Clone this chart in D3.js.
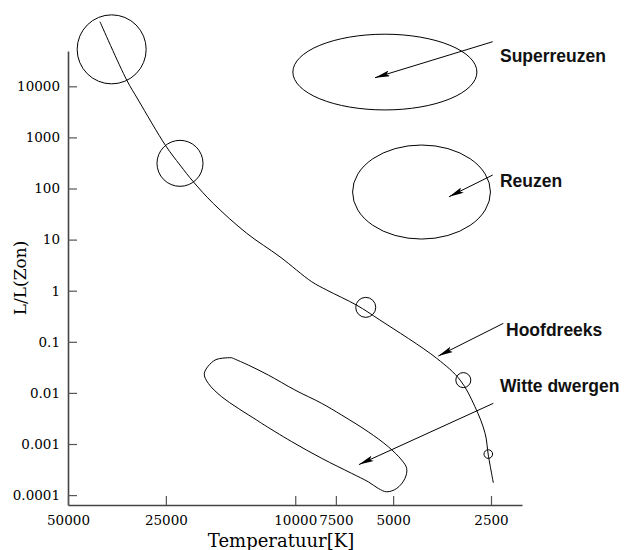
<!DOCTYPE html>
<html>
<head>
<meta charset="utf-8">
<script src="https://cdn.jsdelivr.net/npm/d3@7"></script>
<style>
  body { margin: 0; background: #fff; }
</style>
</head>
<body>
<div id="hrd"></div>
<script>
// axis ticks
const tempTicks = [50000, 25000, 10000, 7500, 5000, 2500];
const tempTickLabels = ["50000", "25000", "10000", "7500", "5000", "2500"];
const lumTicks = [0.0001, 0.001, 0.01, 0.1, 1, 10, 100, 1000, 10000];
const lumTickLabels = ["0.0001", "0.001", "0.01", "0.1", "1", "10", "100", "1000", "10000"];

// main sequence (hoofdreeks)
const msTemp = [39870, 33000, 30390, 25030, 22620, 20590, 17870, 14100, 11140, 8900, 8000, 6470, 5490, 3670, 3110, 2800, 2606, 2548, 2459];
const msLum = [184000, 13300, 5390, 688, 288, 136, 51, 13.3, 4.6, 1.5, 1.03, 0.52, 0.267, 0.0474, 0.0178, 0.00536, 0.00161, 0.000607, 0.000174];

// sample stars on the main sequence
const starTemp = [36700, 22620, 6070, 3041, 2548];
const starLum = [52900, 311, 0.472, 0.0178, 0.000635];
const starSize = [34.5, 23, 10, 7.5, 4.3];

// giant regions (centre and half width in decades)
const regionName = ["Superreuzen", "Reuzen"];
const regionTemp = [5300, 4089];
const regionLum = [19000, 85.3];
const regionHalfT = [0.283, 0.212];
const regionHalfL = [0.741, 0.92];

// white dwarf outline
const wdTemp = [15690, 17650, 19040, 18510, 16840, 14970, 13140, 12690, 10250, 8290, 6705, 5961, 5553, 5233, 4874, 4597, 4542, 4705, 5174, 5961, 7196, 8290, 10020, 12100, 13950, 15690];
const wdLum = [0.0488, 0.0439, 0.0241, 0.01538, 0.0084, 0.00498, 0.00294, 0.00254, 0.00111, 0.000524, 0.000266, 0.000182, 0.000135, 0.000116, 0.000135, 0.000212, 0.000333, 0.000484, 0.000883, 0.00173, 0.00368, 0.00624, 0.01138, 0.02234, 0.0351, 0.0488];

// annotations
const labelText = ["Superreuzen", "Reuzen", "Hoofdreeks", "Witte dwergen"];
const labelTemp = [2346, 2346, 2247, 2346];
const labelLum = [30300, 107, 0.1314, 0.0105];
const arrowFromTemp = [2470, 2470, 2291, 2460];
const arrowFromLum = [74600, 183.6, 0.2297, 0.00624];
const arrowToTemp = [5684, 3365, 3631, 6368];
const arrowToLum = [14730, 69, 0.0526, 0.000395];

const width = 626, height = 550;

const svg = d3.select("#hrd")
    .append("svg")
    .attr("width", width)
    .attr("height", height);

// temperature runs hot to cool
const x = d3.scaleLog()
    .domain([50000, 2007])
    .range([68, 522]);
const y = d3.scaleLog()
    .domain([6.4e-5, 49100])
    .range([505, 51]);

// Y axis
svg.append("g")
    .attr("transform", "translate(68,0)")
    .call(d3.axisLeft(y)
        .tickValues(lumTicks)
        .tickFormat((d, i) => lumTickLabels[i])
        .tickSizeInner(-9)
        .tickSizeOuter(0)
        .tickPadding(8));

// X axis
svg.append("g")
    .attr("transform", "translate(0,505)")
    .call(d3.axisBottom(x)
        .tickValues(tempTicks)
        .tickFormat((d, i) => tempTickLabels[i])
        .tickSizeInner(-9)
        .tickSizeOuter(0)
        .tickPadding(10));

svg.selectAll(".domain").attr("stroke", "#444").attr("stroke-width", 1.6);
svg.selectAll(".tick line").attr("stroke", "#555").attr("stroke-width", 1.2);
svg.selectAll(".tick text")
    .attr("font-family", "DejaVu Serif")
    .attr("font-size", 13.5)
    .attr("fill", "#000");

// axis titles
svg.append("text")
    .text("Temperatuur[K]")
    .attr("x", 281)
    .attr("y", 547)
    .attr("text-anchor", "middle")
    .attr("font-family", "DejaVu Serif")
    .attr("font-size", 18)
    .style("fill", "black");

svg.append("text")
    .text("L/L(Zon)")
    .attr("transform", "translate(26,278) rotate(-90)")
    .attr("text-anchor", "middle")
    .attr("font-family", "DejaVu Serif")
    .attr("font-size", 17)
    .style("fill", "black");

// arrow head
svg.append("defs").append("marker")
    .attr("id", "head")
    .attr("viewBox", "0 0 15 6")
    .attr("refX", 15)
    .attr("refY", 3)
    .attr("markerWidth", 15)
    .attr("markerHeight", 6)
    .attr("markerUnits", "userSpaceOnUse")
    .attr("orient", "auto")
    .append("path")
    .attr("d", "M0,0 L15,3 L0,6 L3,3 Z")
    .attr("fill", "#000");

const line = d3.line()
    .x(d => x(d[0]))
    .y(d => y(d[1]))
    .curve(d3.curveCatmullRom.alpha(0.5));

// main sequence
svg.append("path")
    .datum(msTemp.map((t, i) => [t, msLum[i]]))
    .attr("d", line)
    .attr("fill", "none")
    .attr("stroke", "#000")
    .attr("stroke-width", 1);

// stars
svg.append("g")
    .selectAll("circle")
    .data(starTemp)
    .enter()
    .append("circle")
    .attr("cx", d => x(d))
    .attr("cy", (d, i) => y(starLum[i]))
    .attr("r", (d, i) => starSize[i])
    .attr("fill", "none")
    .attr("stroke", "#000")
    .attr("stroke-width", 1);

// giant regions
svg.append("g")
    .selectAll("ellipse")
    .data(regionName)
    .enter()
    .append("ellipse")
    .attr("cx", (d, i) => x(regionTemp[i]))
    .attr("cy", (d, i) => y(regionLum[i]))
    .attr("rx", (d, i) => Math.abs(x(regionTemp[i] * Math.pow(10, regionHalfT[i])) - x(regionTemp[i])))
    .attr("ry", (d, i) => Math.abs(y(regionLum[i] * Math.pow(10, regionHalfL[i])) - y(regionLum[i])))
    .attr("fill", "none")
    .attr("stroke", "#000")
    .attr("stroke-width", 1);

// white dwarfs
svg.append("path")
    .datum(wdTemp.map((t, i) => [t, wdLum[i]]))
    .attr("d", line)
    .attr("fill", "none")
    .attr("stroke", "#000")
    .attr("stroke-width", 1);

// arrows + labels
svg.append("g")
    .selectAll("line")
    .data(labelText)
    .enter()
    .append("line")
    .attr("x1", (d, i) => x(arrowFromTemp[i]))
    .attr("y1", (d, i) => y(arrowFromLum[i]))
    .attr("x2", (d, i) => x(arrowToTemp[i]))
    .attr("y2", (d, i) => y(arrowToLum[i]))
    .attr("stroke", "#000")
    .attr("stroke-width", 1)
    .attr("marker-end", "url(#head)");

svg.append("g")
    .selectAll("text")
    .data(labelText)
    .enter()
    .append("text")
    .text(d => d)
    .attr("x", (d, i) => x(labelTemp[i]))
    .attr("y", (d, i) => y(labelLum[i]))
    .attr("font-family", "Liberation Sans, Arial, sans-serif")
    .attr("font-weight", "bold")
    .attr("font-size", 17.5)
    .style("fill", "#111");
</script>
</body>
</html>
